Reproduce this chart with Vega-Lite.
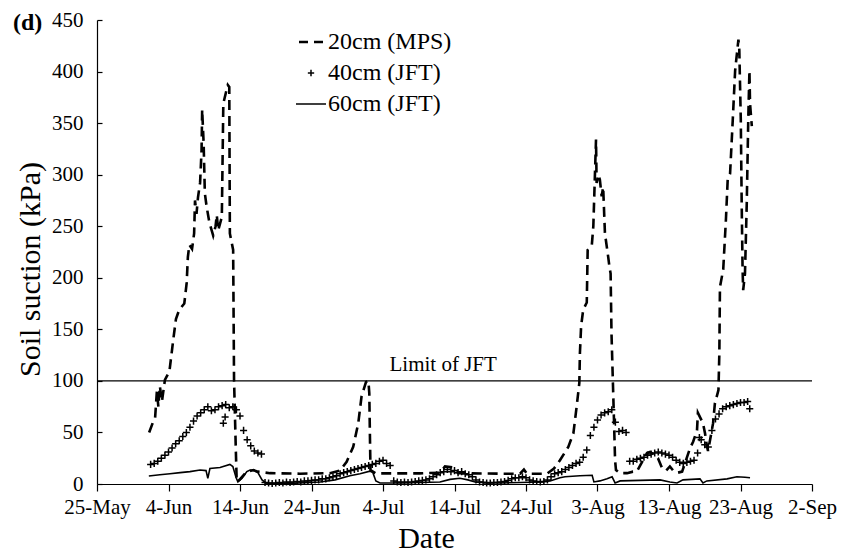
{
  "$schema": "https://vega.github.io/schema/vega-lite/v6.json",
  "width": 715,
  "height": 464,
  "autosize": "none",
  "padding": {"left": 97, "top": 20, "right": 38, "bottom": 71},
  "background": "white",
  "title": {"text": "(d)", "anchor": "start", "frame": "group", "dx": -84, "dy": 45, "offset": 0, "baseline": "alphabetic", "font": "Liberation Serif, Times New Roman, DejaVu Serif, serif", "fontSize": 24, "fontWeight": "bold", "color": "black"},
  "datasets": {
    "mps20": [
      {"date": "2010-06-01T07:00", "kPa": 50}, {"date": "2010-06-01T20:00", "kPa": 60}, {"date": "2010-06-02T03:00", "kPa": 64},
      {"date": "2010-06-02T09:00", "kPa": 90}, {"date": "2010-06-02T14:00", "kPa": 75}, {"date": "2010-06-02T19:00", "kPa": 95},
      {"date": "2010-06-03T02:00", "kPa": 80}, {"date": "2010-06-03T12:00", "kPa": 101}, {"date": "2010-06-04T03:00", "kPa": 109},
      {"date": "2010-06-04T16:00", "kPa": 140}, {"date": "2010-06-05T01:00", "kPa": 160}, {"date": "2010-06-05T12:00", "kPa": 169},
      {"date": "2010-06-06T05:00", "kPa": 175}, {"date": "2010-06-06T13:00", "kPa": 195}, {"date": "2010-06-06T17:00", "kPa": 220},
      {"date": "2010-06-06T22:00", "kPa": 232}, {"date": "2010-06-07T07:00", "kPa": 228}, {"date": "2010-06-07T14:00", "kPa": 243},
      {"date": "2010-06-07T17:00", "kPa": 275}, {"date": "2010-06-07T22:00", "kPa": 262}, {"date": "2010-06-08T03:00", "kPa": 278},
      {"date": "2010-06-08T10:00", "kPa": 292}, {"date": "2010-06-08T15:00", "kPa": 324}, {"date": "2010-06-08T17:00", "kPa": 363},
      {"date": "2010-06-08T22:00", "kPa": 330}, {"date": "2010-06-09T02:00", "kPa": 282}, {"date": "2010-06-09T08:00", "kPa": 269},
      {"date": "2010-06-09T17:00", "kPa": 254}, {"date": "2010-06-09T23:00", "kPa": 248}, {"date": "2010-06-10T06:00", "kPa": 241},
      {"date": "2010-06-10T14:00", "kPa": 250}, {"date": "2010-06-10T18:00", "kPa": 261}, {"date": "2010-06-10T23:00", "kPa": 246},
      {"date": "2010-06-11T11:00", "kPa": 259}, {"date": "2010-06-11T16:00", "kPa": 369}, {"date": "2010-06-12T01:00", "kPa": 380},
      {"date": "2010-06-12T07:00", "kPa": 387}, {"date": "2010-06-12T12:00", "kPa": 385}, {"date": "2010-06-12T14:00", "kPa": 243},
      {"date": "2010-06-13T01:00", "kPa": 227}, {"date": "2010-06-13T04:00", "kPa": 101}, {"date": "2010-06-13T10:00", "kPa": 33},
      {"date": "2010-06-13T13:00", "kPa": 2}, {"date": "2010-06-13T22:00", "kPa": 4}, {"date": "2010-06-14T23:00", "kPa": 12},
      {"date": "2010-06-15T21:00", "kPa": 13.5}, {"date": "2010-06-16T12:00", "kPa": 12}, {"date": "2010-06-18T05:00", "kPa": 10.5},
      {"date": "2010-06-22T09:00", "kPa": 10}, {"date": "2010-06-26T14:00", "kPa": 10.5}, {"date": "2010-06-28T00:00", "kPa": 13},
      {"date": "2010-06-28T22:00", "kPa": 21.6}, {"date": "2010-06-29T20:00", "kPa": 36}, {"date": "2010-06-30T13:00", "kPa": 59},
      {"date": "2010-07-01T00:00", "kPa": 85}, {"date": "2010-07-01T15:00", "kPa": 99}, {"date": "2010-07-01T23:00", "kPa": 100},
      {"date": "2010-07-02T02:00", "kPa": 88}, {"date": "2010-07-02T04:00", "kPa": 49}, {"date": "2010-07-02T06:00", "kPa": 13.6},
      {"date": "2010-07-03T00:00", "kPa": 10.3}, {"date": "2010-07-09T04:00", "kPa": 10.3}, {"date": "2010-07-11T23:00", "kPa": 11},
      {"date": "2010-07-12T16:00", "kPa": 17}, {"date": "2010-07-13T19:00", "kPa": 16}, {"date": "2010-07-14T12:00", "kPa": 10.5},
      {"date": "2010-07-20T09:00", "kPa": 10}, {"date": "2010-07-23T04:00", "kPa": 10}, {"date": "2010-07-23T17:00", "kPa": 14},
      {"date": "2010-07-24T03:00", "kPa": 10}, {"date": "2010-07-26T23:00", "kPa": 10}, {"date": "2010-07-27T22:00", "kPa": 15},
      {"date": "2010-07-28T18:00", "kPa": 23}, {"date": "2010-07-29T22:00", "kPa": 36}, {"date": "2010-07-30T15:00", "kPa": 49},
      {"date": "2010-07-31T02:00", "kPa": 75}, {"date": "2010-07-31T11:00", "kPa": 98}, {"date": "2010-07-31T13:00", "kPa": 127},
      {"date": "2010-07-31T17:00", "kPa": 153}, {"date": "2010-08-01T00:00", "kPa": 169}, {"date": "2010-08-01T12:00", "kPa": 176},
      {"date": "2010-08-01T15:00", "kPa": 227}, {"date": "2010-08-02T05:00", "kPa": 232}, {"date": "2010-08-02T10:00", "kPa": 250},
      {"date": "2010-08-02T19:00", "kPa": 334}, {"date": "2010-08-02T21:00", "kPa": 292}, {"date": "2010-08-03T03:00", "kPa": 300},
      {"date": "2010-08-03T08:00", "kPa": 295}, {"date": "2010-08-03T14:00", "kPa": 279}, {"date": "2010-08-03T19:00", "kPa": 288},
      {"date": "2010-08-04T01:00", "kPa": 243}, {"date": "2010-08-04T12:00", "kPa": 220}, {"date": "2010-08-04T16:00", "kPa": 211},
      {"date": "2010-08-04T20:00", "kPa": 204}, {"date": "2010-08-04T23:00", "kPa": 146}, {"date": "2010-08-05T07:00", "kPa": 65},
      {"date": "2010-08-05T11:00", "kPa": 23}, {"date": "2010-08-05T14:00", "kPa": 13.6}, {"date": "2010-08-06T04:00", "kPa": 10.5},
      {"date": "2010-08-07T03:00", "kPa": 10.5}, {"date": "2010-08-07T23:00", "kPa": 12}, {"date": "2010-08-08T12:00", "kPa": 12},
      {"date": "2010-08-09T22:00", "kPa": 30}, {"date": "2010-08-10T08:00", "kPa": 31}, {"date": "2010-08-11T01:00", "kPa": 28},
      {"date": "2010-08-11T11:00", "kPa": 25}, {"date": "2010-08-12T00:00", "kPa": 16}, {"date": "2010-08-12T14:00", "kPa": 13},
      {"date": "2010-08-13T03:00", "kPa": 17}, {"date": "2010-08-13T17:00", "kPa": 12}, {"date": "2010-08-14T06:00", "kPa": 11},
      {"date": "2010-08-14T20:00", "kPa": 12}, {"date": "2010-08-15T23:00", "kPa": 35}, {"date": "2010-08-16T09:00", "kPa": 41},
      {"date": "2010-08-16T22:00", "kPa": 52}, {"date": "2010-08-17T01:00", "kPa": 69}, {"date": "2010-08-17T18:00", "kPa": 59},
      {"date": "2010-08-18T01:00", "kPa": 49}, {"date": "2010-08-18T07:00", "kPa": 37}, {"date": "2010-08-18T11:00", "kPa": 32},
      {"date": "2010-08-18T18:00", "kPa": 43}, {"date": "2010-08-19T04:00", "kPa": 59}, {"date": "2010-08-19T10:00", "kPa": 78},
      {"date": "2010-08-19T22:00", "kPa": 91}, {"date": "2010-08-20T01:00", "kPa": 127}, {"date": "2010-08-20T03:00", "kPa": 191},
      {"date": "2010-08-20T14:00", "kPa": 208}, {"date": "2010-08-20T23:00", "kPa": 256}, {"date": "2010-08-21T05:00", "kPa": 295},
      {"date": "2010-08-21T13:00", "kPa": 301}, {"date": "2010-08-21T22:00", "kPa": 353}, {"date": "2010-08-22T06:00", "kPa": 401},
      {"date": "2010-08-22T17:00", "kPa": 431}, {"date": "2010-08-22T20:00", "kPa": 421}, {"date": "2010-08-23T01:00", "kPa": 353},
      {"date": "2010-08-23T04:00", "kPa": 272}, {"date": "2010-08-23T07:00", "kPa": 208}, {"date": "2010-08-23T09:00", "kPa": 188},
      {"date": "2010-08-23T15:00", "kPa": 204}, {"date": "2010-08-23T21:00", "kPa": 272}, {"date": "2010-08-24T02:00", "kPa": 353},
      {"date": "2010-08-24T06:00", "kPa": 401}, {"date": "2010-08-24T08:00", "kPa": 369}, {"date": "2010-08-24T14:00", "kPa": 347}
    ],
    "jft40": [
      {"date": "2010-06-01T12:00", "kPa": 19}, {"date": "2010-06-02T00:00", "kPa": 20}, {"date": "2010-06-02T12:00", "kPa": 22},
      {"date": "2010-06-03T00:00", "kPa": 25}, {"date": "2010-06-03T12:00", "kPa": 28}, {"date": "2010-06-04T00:00", "kPa": 31},
      {"date": "2010-06-04T12:00", "kPa": 35}, {"date": "2010-06-05T00:00", "kPa": 39}, {"date": "2010-06-05T12:00", "kPa": 42},
      {"date": "2010-06-06T00:00", "kPa": 46}, {"date": "2010-06-06T12:00", "kPa": 50}, {"date": "2010-06-07T00:00", "kPa": 55},
      {"date": "2010-06-07T12:00", "kPa": 61}, {"date": "2010-06-08T00:00", "kPa": 66}, {"date": "2010-06-08T12:00", "kPa": 69},
      {"date": "2010-06-09T00:00", "kPa": 72}, {"date": "2010-06-09T12:00", "kPa": 75}, {"date": "2010-06-10T00:00", "kPa": 71},
      {"date": "2010-06-10T12:00", "kPa": 72}, {"date": "2010-06-11T00:00", "kPa": 75}, {"date": "2010-06-11T12:00", "kPa": 76},
      {"date": "2010-06-11T16:00", "kPa": 59}, {"date": "2010-06-11T22:00", "kPa": 65}, {"date": "2010-06-12T00:00", "kPa": 77},
      {"date": "2010-06-12T12:00", "kPa": 74}, {"date": "2010-06-13T00:00", "kPa": 75}, {"date": "2010-06-13T12:00", "kPa": 72},
      {"date": "2010-06-14T00:00", "kPa": 66}, {"date": "2010-06-14T12:00", "kPa": 52}, {"date": "2010-06-15T00:00", "kPa": 43},
      {"date": "2010-06-15T12:00", "kPa": 37}, {"date": "2010-06-16T00:00", "kPa": 32}, {"date": "2010-06-16T12:00", "kPa": 30},
      {"date": "2010-06-17T00:00", "kPa": 29}, {"date": "2010-06-17T12:00", "kPa": 1.5}, {"date": "2010-06-18T00:00", "kPa": 1},
      {"date": "2010-06-18T12:00", "kPa": 0.5}, {"date": "2010-06-19T00:00", "kPa": 1}, {"date": "2010-06-19T12:00", "kPa": 1.5},
      {"date": "2010-06-20T00:00", "kPa": 1}, {"date": "2010-06-20T12:00", "kPa": 2}, {"date": "2010-06-21T00:00", "kPa": 1.5},
      {"date": "2010-06-21T12:00", "kPa": 2}, {"date": "2010-06-22T00:00", "kPa": 2.5}, {"date": "2010-06-22T12:00", "kPa": 2},
      {"date": "2010-06-23T00:00", "kPa": 3}, {"date": "2010-06-23T12:00", "kPa": 3}, {"date": "2010-06-24T00:00", "kPa": 3.5},
      {"date": "2010-06-24T12:00", "kPa": 4}, {"date": "2010-06-25T00:00", "kPa": 4}, {"date": "2010-06-25T12:00", "kPa": 5},
      {"date": "2010-06-26T00:00", "kPa": 5}, {"date": "2010-06-26T12:00", "kPa": 6}, {"date": "2010-06-27T00:00", "kPa": 7},
      {"date": "2010-06-27T12:00", "kPa": 8}, {"date": "2010-06-28T00:00", "kPa": 10}, {"date": "2010-06-28T12:00", "kPa": 11},
      {"date": "2010-06-29T00:00", "kPa": 12}, {"date": "2010-06-29T12:00", "kPa": 13}, {"date": "2010-06-30T00:00", "kPa": 14},
      {"date": "2010-06-30T12:00", "kPa": 15}, {"date": "2010-07-01T00:00", "kPa": 16}, {"date": "2010-07-01T12:00", "kPa": 17},
      {"date": "2010-07-02T00:00", "kPa": 18}, {"date": "2010-07-02T12:00", "kPa": 19}, {"date": "2010-07-03T00:00", "kPa": 20},
      {"date": "2010-07-03T12:00", "kPa": 22}, {"date": "2010-07-04T00:00", "kPa": 23}, {"date": "2010-07-04T12:00", "kPa": 20},
      {"date": "2010-07-05T00:00", "kPa": 18}, {"date": "2010-07-05T12:00", "kPa": 3}, {"date": "2010-07-06T00:00", "kPa": 2},
      {"date": "2010-07-06T12:00", "kPa": 1.5}, {"date": "2010-07-07T00:00", "kPa": 2}, {"date": "2010-07-07T12:00", "kPa": 1.5},
      {"date": "2010-07-08T00:00", "kPa": 2}, {"date": "2010-07-08T12:00", "kPa": 2.5}, {"date": "2010-07-09T00:00", "kPa": 3},
      {"date": "2010-07-09T12:00", "kPa": 3.5}, {"date": "2010-07-10T00:00", "kPa": 4}, {"date": "2010-07-10T12:00", "kPa": 5},
      {"date": "2010-07-11T00:00", "kPa": 7}, {"date": "2010-07-11T12:00", "kPa": 9}, {"date": "2010-07-12T00:00", "kPa": 11},
      {"date": "2010-07-12T12:00", "kPa": 12}, {"date": "2010-07-13T00:00", "kPa": 14}, {"date": "2010-07-13T12:00", "kPa": 12},
      {"date": "2010-07-14T00:00", "kPa": 13}, {"date": "2010-07-14T12:00", "kPa": 11}, {"date": "2010-07-15T00:00", "kPa": 12},
      {"date": "2010-07-15T12:00", "kPa": 10}, {"date": "2010-07-16T00:00", "kPa": 9}, {"date": "2010-07-16T12:00", "kPa": 7},
      {"date": "2010-07-17T00:00", "kPa": 4}, {"date": "2010-07-17T12:00", "kPa": 2}, {"date": "2010-07-18T00:00", "kPa": 1.5},
      {"date": "2010-07-18T12:00", "kPa": 1}, {"date": "2010-07-19T00:00", "kPa": 1}, {"date": "2010-07-19T12:00", "kPa": 1.5},
      {"date": "2010-07-20T00:00", "kPa": 1.5}, {"date": "2010-07-20T12:00", "kPa": 2}, {"date": "2010-07-21T00:00", "kPa": 2.5},
      {"date": "2010-07-21T12:00", "kPa": 3.5}, {"date": "2010-07-22T00:00", "kPa": 5}, {"date": "2010-07-22T12:00", "kPa": 6},
      {"date": "2010-07-23T00:00", "kPa": 6}, {"date": "2010-07-23T12:00", "kPa": 7}, {"date": "2010-07-24T00:00", "kPa": 6},
      {"date": "2010-07-24T12:00", "kPa": 4}, {"date": "2010-07-25T00:00", "kPa": 3}, {"date": "2010-07-25T12:00", "kPa": 2.5},
      {"date": "2010-07-26T00:00", "kPa": 2}, {"date": "2010-07-26T12:00", "kPa": 2.5}, {"date": "2010-07-27T00:00", "kPa": 4},
      {"date": "2010-07-27T12:00", "kPa": 7}, {"date": "2010-07-28T00:00", "kPa": 10}, {"date": "2010-07-28T12:00", "kPa": 11},
      {"date": "2010-07-29T00:00", "kPa": 12}, {"date": "2010-07-29T12:00", "kPa": 14}, {"date": "2010-07-30T00:00", "kPa": 16},
      {"date": "2010-07-30T12:00", "kPa": 18}, {"date": "2010-07-31T00:00", "kPa": 20}, {"date": "2010-07-31T12:00", "kPa": 21},
      {"date": "2010-08-01T00:00", "kPa": 26}, {"date": "2010-08-01T12:00", "kPa": 33}, {"date": "2010-08-02T00:00", "kPa": 47},
      {"date": "2010-08-02T12:00", "kPa": 55}, {"date": "2010-08-03T00:00", "kPa": 62}, {"date": "2010-08-03T12:00", "kPa": 67},
      {"date": "2010-08-04T00:00", "kPa": 69}, {"date": "2010-08-04T12:00", "kPa": 70}, {"date": "2010-08-05T00:00", "kPa": 72},
      {"date": "2010-08-05T12:00", "kPa": 60}, {"date": "2010-08-06T00:00", "kPa": 51}, {"date": "2010-08-06T12:00", "kPa": 52},
      {"date": "2010-08-07T00:00", "kPa": 50}, {"date": "2010-08-07T12:00", "kPa": 22}, {"date": "2010-08-08T00:00", "kPa": 22},
      {"date": "2010-08-08T12:00", "kPa": 24}, {"date": "2010-08-09T00:00", "kPa": 25}, {"date": "2010-08-09T12:00", "kPa": 26},
      {"date": "2010-08-10T00:00", "kPa": 28}, {"date": "2010-08-10T12:00", "kPa": 29}, {"date": "2010-08-11T00:00", "kPa": 30},
      {"date": "2010-08-11T12:00", "kPa": 31}, {"date": "2010-08-12T00:00", "kPa": 30}, {"date": "2010-08-12T12:00", "kPa": 29},
      {"date": "2010-08-13T00:00", "kPa": 28}, {"date": "2010-08-13T12:00", "kPa": 26}, {"date": "2010-08-14T00:00", "kPa": 23},
      {"date": "2010-08-14T12:00", "kPa": 21}, {"date": "2010-08-15T00:00", "kPa": 20}, {"date": "2010-08-15T12:00", "kPa": 21},
      {"date": "2010-08-16T00:00", "kPa": 22}, {"date": "2010-08-16T12:00", "kPa": 23}, {"date": "2010-08-17T00:00", "kPa": 30},
      {"date": "2010-08-17T06:00", "kPa": 45}, {"date": "2010-08-17T12:00", "kPa": 43}, {"date": "2010-08-18T00:00", "kPa": 38},
      {"date": "2010-08-18T12:00", "kPa": 36}, {"date": "2010-08-19T00:00", "kPa": 52}, {"date": "2010-08-19T12:00", "kPa": 63},
      {"date": "2010-08-20T00:00", "kPa": 68}, {"date": "2010-08-20T12:00", "kPa": 73}, {"date": "2010-08-21T00:00", "kPa": 75},
      {"date": "2010-08-21T12:00", "kPa": 76}, {"date": "2010-08-22T00:00", "kPa": 77}, {"date": "2010-08-22T12:00", "kPa": 78},
      {"date": "2010-08-23T00:00", "kPa": 79}, {"date": "2010-08-23T12:00", "kPa": 79}, {"date": "2010-08-24T00:00", "kPa": 80},
      {"date": "2010-08-24T07:00", "kPa": 73}
    ],
    "jft60": [
      {"date": "2010-06-01T06:00", "kPa": 7.8}, {"date": "2010-06-02T19:00", "kPa": 9}, {"date": "2010-06-04T05:00", "kPa": 10},
      {"date": "2010-06-05T15:00", "kPa": 11}, {"date": "2010-06-07T00:00", "kPa": 12}, {"date": "2010-06-08T10:00", "kPa": 13.6},
      {"date": "2010-06-09T06:00", "kPa": 13}, {"date": "2010-06-09T12:00", "kPa": 5.5}, {"date": "2010-06-09T19:00", "kPa": 15},
      {"date": "2010-06-11T05:00", "kPa": 16}, {"date": "2010-06-12T14:00", "kPa": 19}, {"date": "2010-06-13T00:00", "kPa": 17},
      {"date": "2010-06-13T11:00", "kPa": 6}, {"date": "2010-06-13T17:00", "kPa": 2}, {"date": "2010-06-14T07:00", "kPa": 5.5},
      {"date": "2010-06-14T23:00", "kPa": 12}, {"date": "2010-06-15T10:00", "kPa": 13.6}, {"date": "2010-06-15T23:00", "kPa": 13},
      {"date": "2010-06-16T12:00", "kPa": 11}, {"date": "2010-06-17T02:00", "kPa": 4}, {"date": "2010-06-17T15:00", "kPa": 1},
      {"date": "2010-06-18T22:00", "kPa": 0.5}, {"date": "2010-06-21T00:00", "kPa": 0.5}, {"date": "2010-06-22T09:00", "kPa": 1},
      {"date": "2010-06-25T05:00", "kPa": 2}, {"date": "2010-06-27T07:00", "kPa": 4}, {"date": "2010-06-29T09:00", "kPa": 8},
      {"date": "2010-06-30T19:00", "kPa": 10}, {"date": "2010-07-02T04:00", "kPa": 12.5}, {"date": "2010-07-02T14:00", "kPa": 11},
      {"date": "2010-07-03T00:00", "kPa": 3}, {"date": "2010-07-03T14:00", "kPa": 1}, {"date": "2010-07-06T09:00", "kPa": 1},
      {"date": "2010-07-09T04:00", "kPa": 1.5}, {"date": "2010-07-11T23:00", "kPa": 2}, {"date": "2010-07-13T09:00", "kPa": 4.5},
      {"date": "2010-07-14T18:00", "kPa": 5.5}, {"date": "2010-07-15T21:00", "kPa": 4}, {"date": "2010-07-16T21:00", "kPa": 2},
      {"date": "2010-07-20T09:00", "kPa": 1}, {"date": "2010-07-23T04:00", "kPa": 1.5}, {"date": "2010-07-25T23:00", "kPa": 2},
      {"date": "2010-07-27T09:00", "kPa": 3}, {"date": "2010-07-28T18:00", "kPa": 6}, {"date": "2010-07-29T11:00", "kPa": 7},
      {"date": "2010-07-31T13:00", "kPa": 8}, {"date": "2010-08-02T06:00", "kPa": 8.5}, {"date": "2010-08-02T12:00", "kPa": 2},
      {"date": "2010-08-03T08:00", "kPa": 3}, {"date": "2010-08-04T08:00", "kPa": 5}, {"date": "2010-08-05T01:00", "kPa": 7},
      {"date": "2010-08-05T11:00", "kPa": 1}, {"date": "2010-08-06T04:00", "kPa": 3}, {"date": "2010-08-08T23:00", "kPa": 3.5},
      {"date": "2010-08-11T18:00", "kPa": 4}, {"date": "2010-08-13T03:00", "kPa": 2}, {"date": "2010-08-14T03:00", "kPa": 1},
      {"date": "2010-08-14T23:00", "kPa": 4}, {"date": "2010-08-17T08:00", "kPa": 5}, {"date": "2010-08-17T18:00", "kPa": 1},
      {"date": "2010-08-18T07:00", "kPa": 3}, {"date": "2010-08-21T03:00", "kPa": 5}, {"date": "2010-08-22T12:00", "kPa": 7},
      {"date": "2010-08-23T15:00", "kPa": 6.5}, {"date": "2010-08-24T08:00", "kPa": 6}
    ],
    "limit": [
      {"date": "2010-07-12T10:00", "kPa": 100, "label": "Limit of JFT"}
    ]
  },
  "layer": [
    {
      "data": {"name": "mps20"},
      "mark": {"type": "line", "strokeDash": [10, 6], "strokeWidth": 2.6, "interpolate": "linear"},
      "encoding": {
        "x": {"field": "date", "type": "temporal", "scale": {"domain": [{"year": 2010, "month": "may", "date": 25}, {"year": 2010, "month": "sep", "date": 2}]},
          "axis": {"title": "Date", "format": "%-d-%b", "values": [
            {"year": 2010, "month": "may", "date": 25}, {"year": 2010, "month": "jun", "date": 4}, {"year": 2010, "month": "jun", "date": 14},
            {"year": 2010, "month": "jun", "date": 24}, {"year": 2010, "month": "jul", "date": 4}, {"year": 2010, "month": "jul", "date": 14},
            {"year": 2010, "month": "jul", "date": 24}, {"year": 2010, "month": "aug", "date": 3}, {"year": 2010, "month": "aug", "date": 13},
            {"year": 2010, "month": "aug", "date": 23}, {"year": 2010, "month": "sep", "date": 2}],
            "tickSize": 7, "labelPadding": 5, "labelFlush": false, "labelOverlap": false,
            "titleX": 329, "titleY": 63, "titleBaseline": "alphabetic", "titleAlign": "center", "titleFontSize": 30}},
        "y": {"field": "kPa", "type": "quantitative", "scale": {"domain": [0, 450], "nice": false, "zero": true},
          "axis": {"title": "Soil suction (kPa)", "values": [0, 50, 100, 150, 200, 250, 300, 350, 400, 450],
            "tickSize": -5, "labelPadding": 19, "titleX": -58, "titleY": 249, "titleBaseline": "alphabetic", "titleAlign": "center", "titleAngle": -90, "titleFontSize": 30}},
        "color": {"datum": "20cm (MPS)", "type": "nominal",
          "scale": {"domain": ["20cm (MPS)", "40cm (JFT)", "60cm (JFT)"], "range": ["black", "black", "black"]},
          "legend": {"title": null, "orient": "none", "legendX": 202, "legendY": 10, "padding": 0, "rowPadding": 7,
            "labelFont": "Liberation Serif, Times New Roman, DejaVu Serif, serif", "labelFontSize": 24, "labelColor": "black", "labelOffset": 5,
            "symbolSize": 900, "symbolType": "stroke",
            "encode": {"symbols": {"update": {
              "shape": {"signal": "datum.value === '40cm (JFT)' ? 'M-1,0H1M0,-1V1' : 'stroke'"},
              "size": {"signal": "datum.value === '40cm (JFT)' ? 40 : (datum.value === '20cm (MPS)' ? 576 : 900)"},
              "strokeDash": {"signal": "datum.value === '20cm (MPS)' ? [9, 6] : [1, 0]"},
              "strokeWidth": {"signal": "datum.value === '20cm (MPS)' ? 2.6 : 1.5"},
              "stroke": {"value": "black"},
              "fill": {"value": "transparent"},
              "opacity": {"value": 1}
            }}}}}
      }
    },
    {
      "data": {"name": "jft60"},
      "mark": {"type": "line", "strokeWidth": 1.6},
      "encoding": {
        "x": {"field": "date", "type": "temporal"},
        "y": {"field": "kPa", "type": "quantitative"},
        "color": {"datum": "60cm (JFT)", "type": "nominal"}
      }
    },
    {
      "data": {"name": "jft40"},
      "mark": {"type": "point", "shape": "M-1,0H1M0,-1V1", "size": 50, "filled": false, "strokeWidth": 1.5, "opacity": 1},
      "encoding": {
        "x": {"field": "date", "type": "temporal"},
        "y": {"field": "kPa", "type": "quantitative"},
        "color": {"datum": "40cm (JFT)", "type": "nominal"}
      }
    },
    {
      "data": {"name": "limit"},
      "mark": {"type": "rule", "color": "black", "strokeWidth": 1.3},
      "encoding": {"y": {"field": "kPa", "type": "quantitative"}}
    },
    {
      "data": {"name": "limit"},
      "mark": {"type": "text", "font": "Liberation Serif, Times New Roman, DejaVu Serif, serif", "fontSize": 21, "baseline": "alphabetic", "align": "center", "dy": -10, "fill": "black"},
      "encoding": {
        "x": {"field": "date", "type": "temporal"},
        "y": {"field": "kPa", "type": "quantitative"},
        "text": {"field": "label"}
      }
    }
  ],
  "config": {
    "view": {"stroke": null},
    "font": "Liberation Serif, Times New Roman, DejaVu Serif, serif",
    "axis": {"grid": false, "domainColor": "black", "domainWidth": 1.2, "tickColor": "black", "tickWidth": 1.2,
      "labelColor": "black", "labelFont": "Liberation Serif, Times New Roman, DejaVu Serif, serif", "labelFontSize": 21,
      "titleColor": "black", "titleFont": "Liberation Serif, Times New Roman, DejaVu Serif, serif", "titleFontWeight": "normal"}
  }
}
